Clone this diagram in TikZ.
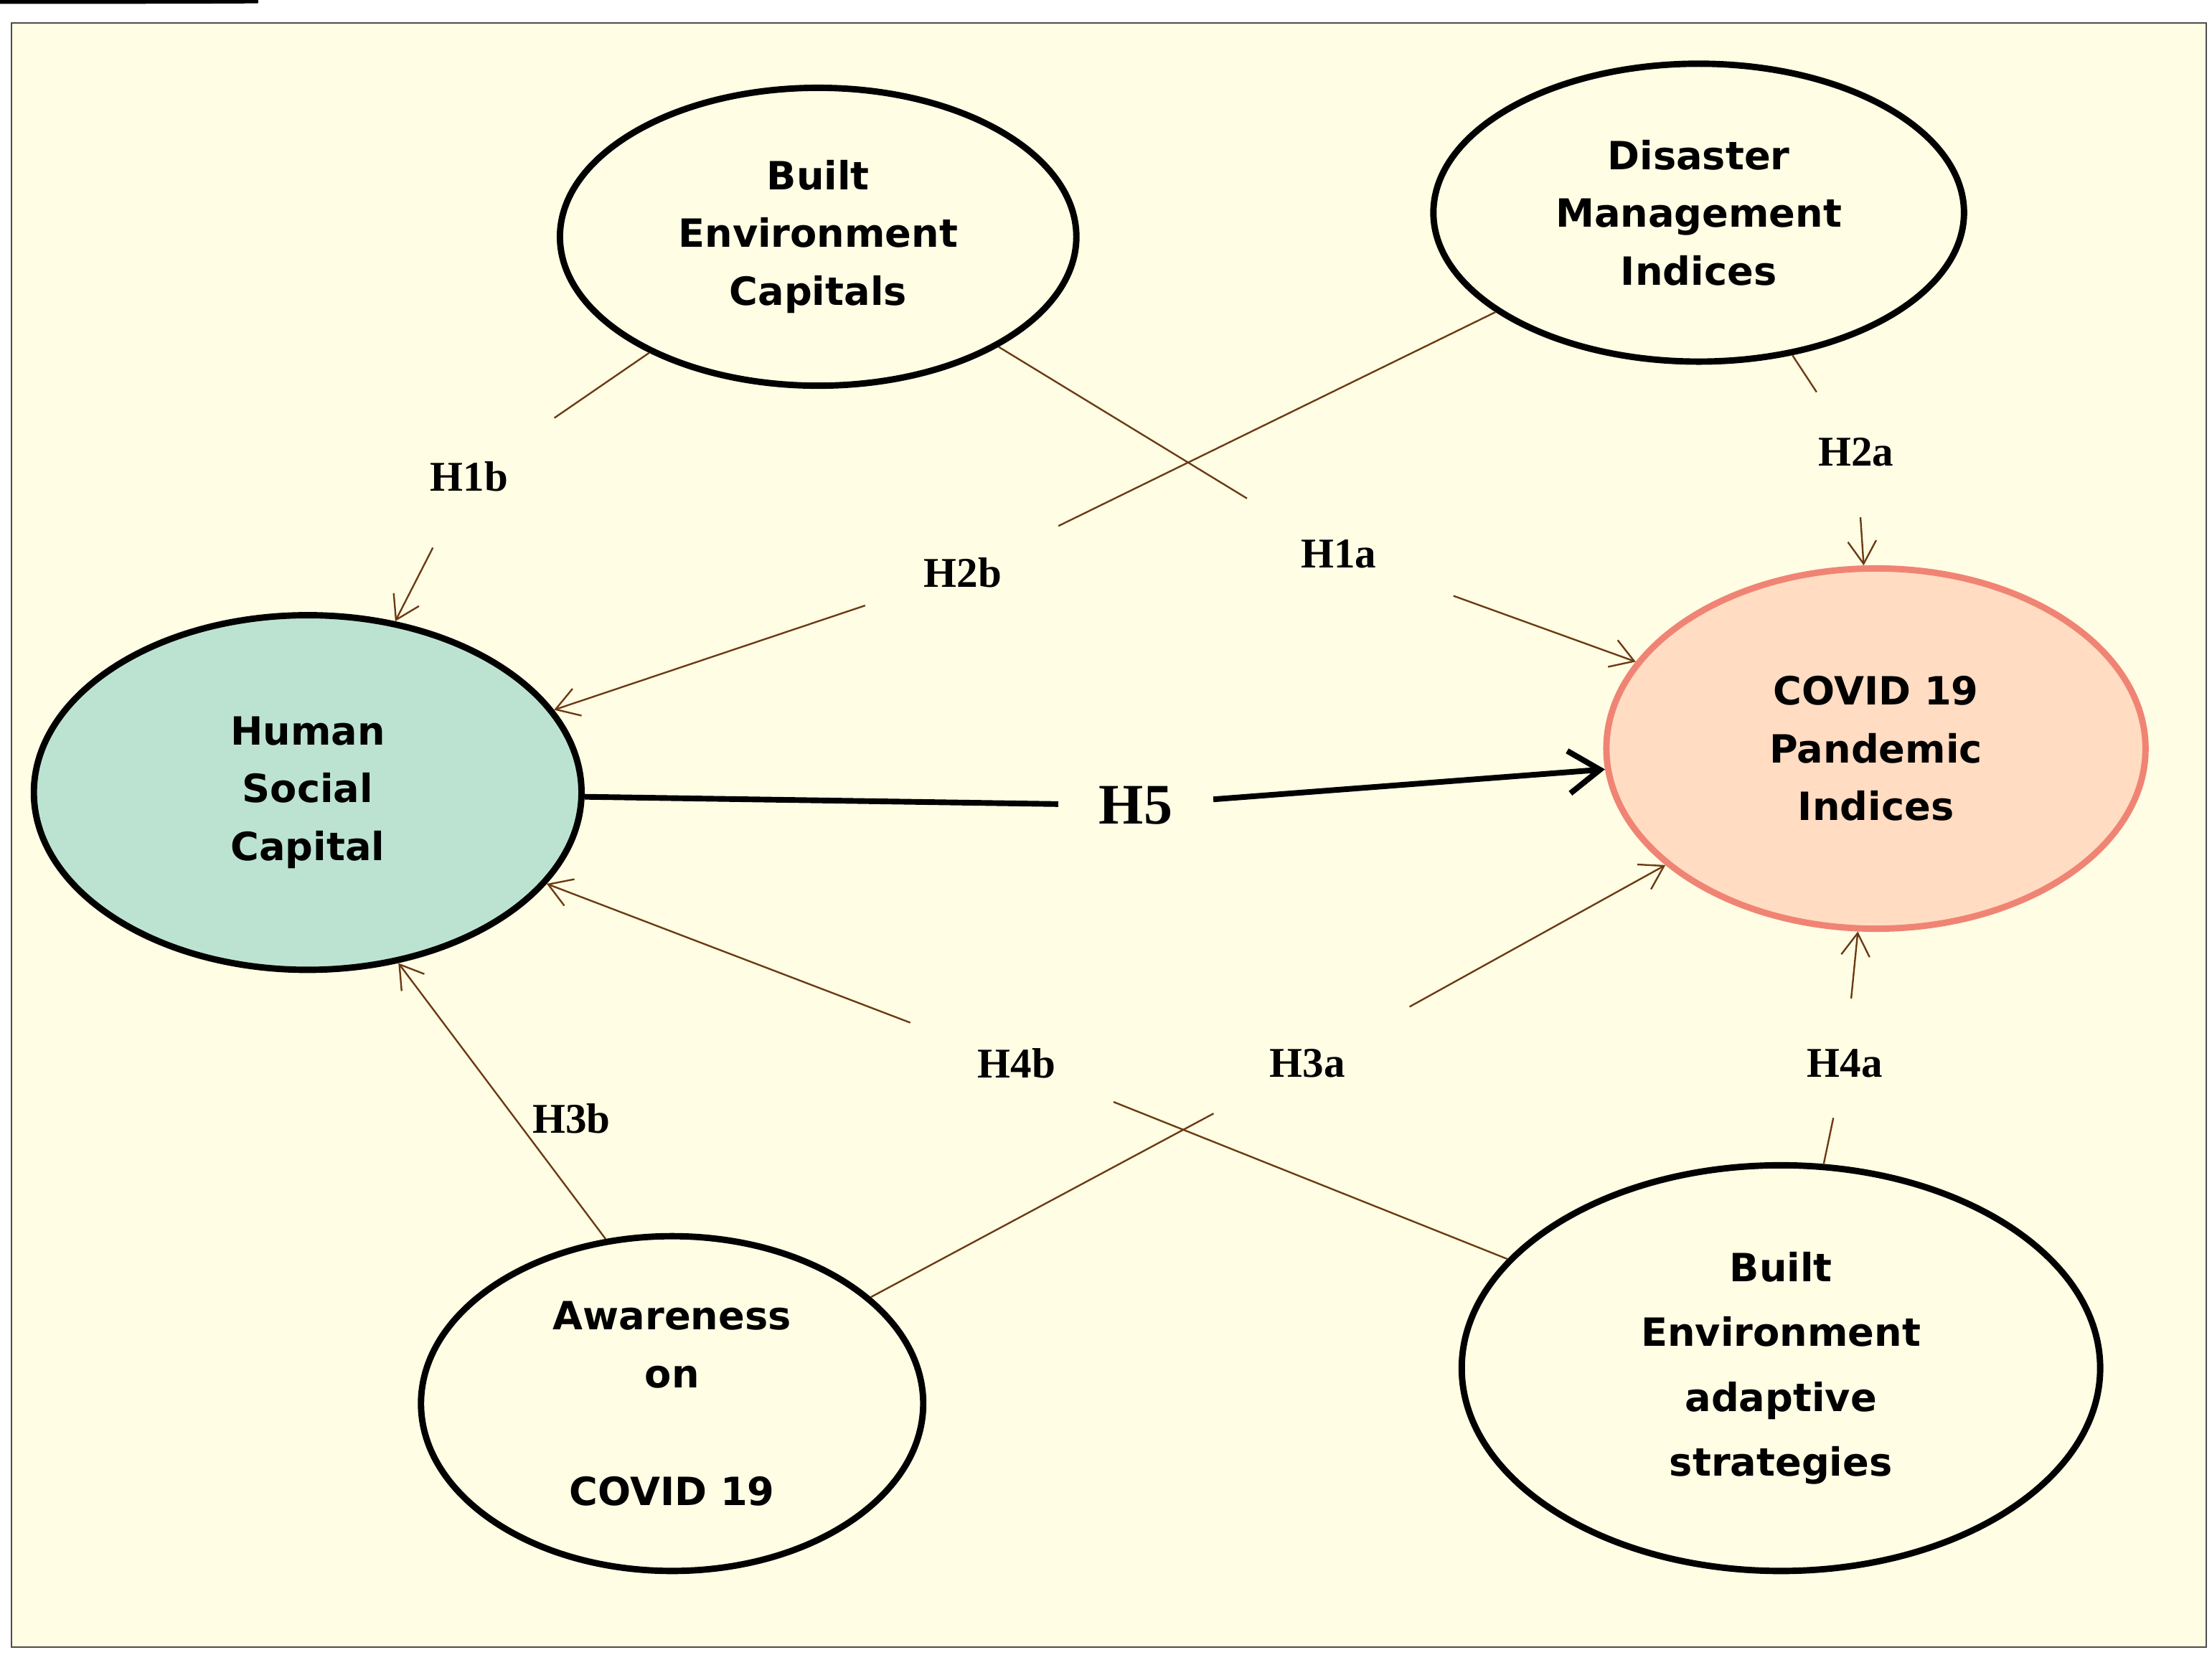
\documentclass[tikz,border=0pt]{standalone}
\usepackage{fontspec}
\setmainfont{Liberation Serif}
\newfontfamily\boxfont{DejaVu Sans}
\usetikzlibrary{shapes.geometric,arrows.meta}
\definecolor{bgy}{HTML}{FFFDE4}
\definecolor{arr}{HTML}{6B3A14}
\definecolor{teal}{HTML}{BCE3D2}
\definecolor{peach}{HTML}{FFDCC2}
\definecolor{salmon}{HTML}{F08474}
\begin{document}
\begin{tikzpicture}[x=0.01cm,y=-0.01cm,
  ell/.style={ellipse,draw=black,line width=0.045cm,fill=bgy,align=center,
    font=\boxfont\bfseries\fontsize{7.8}{11.6}\selectfont,inner sep=0pt},
  lbl/.style={font=\bfseries\fontsize{8.5}{10}\selectfont,inner sep=4pt},
  con/.style={draw=arr,line width=0.012cm},
  tip/.style={-{Straight Barb[length=0.16cm,width=0.2cm]}}]
\useasboundingbox (0,0) rectangle (1560,1167);
\fill[white] (0,0) rectangle (1560,1167);
\draw[fill=bgy,draw=black!70,line width=0.01cm] (8,16) rectangle (1556,1162);
\node[ell,minimum width=364\pgflinewidth/\pgflinewidth*0.01cm,minimum height=0.01cm] at (0,0) {};
\node[ell,minimum width=3.64cm,minimum height=2.1cm] (bec) at (577,167) {Built\\Environment\\Capitals};
\node[ell,minimum width=3.74cm,minimum height=2.1cm] (dmi) at (1198,150) {Disaster\\Management\\Indices};
\node[ell,fill=teal,minimum width=3.86cm,minimum height=2.5cm] (hsc) at (217,559) {Human\\Social\\Capital};
\node[ell,fill=peach,draw=salmon,minimum width=3.8cm,minimum height=2.54cm] (cov) at (1323,528) {COVID 19\\Pandemic\\Indices};
\node[ell,minimum width=3.54cm,minimum height=2.36cm] (awa) at (474,990) {Awareness\\on\\[12pt]COVID 19};
\node[ell,minimum width=4.5cm,minimum height=2.86cm,font=\boxfont\bfseries\fontsize{7.8}{13}\selectfont] (bea) at (1256,965) {Built\\Environment\\adaptive\\strategies};

\node[lbl] (h1b) at (331,336) {H1b};
\node[lbl] (h1a) at (944,391) {H1a};
\node[lbl] (h2b) at (679,404) {H2b};
\node[lbl] (h2a) at (1309,319) {H2a};
\node[lbl,font=\bfseries\fontsize{11.5}{12}\selectfont,inner sep=8pt] (h5) at (801,568) {H5};
\node[lbl] (h4b) at (717,750) {H4b};
\node[lbl] (h3a) at (922,750) {H3a};
\node[lbl] (h4a) at (1301,750) {H4a};
\node[lbl] (h3b) at (403,789) {H3b};

\draw[con,shorten >=8pt] (bec) -- (h1b);
\draw[con,tip,shorten <=8pt] (h1b) -- (hsc);
\draw[con,shorten >=8pt] (bec) -- (h1a);
\draw[con,tip,shorten <=12pt] (h1a) -- (cov);
\draw[con,shorten >=8pt] (dmi) -- (h2b);
\draw[con,tip,shorten <=8pt] (h2b) -- (hsc);
\draw[con,shorten >=6pt] (dmi) -- (h2a);
\draw[con,tip,shorten <=6pt] (h2a) -- (cov);
\draw[line width=0.04cm] (hsc) -- (h5);
\draw[line width=0.04cm,-{Straight Barb[length=0.22cm,width=0.3cm]}] (h5) -- (cov);
\draw[con,shorten >=8pt] (bea) -- (h4b);
\draw[con,tip,shorten <=10pt] (h4b) -- (hsc);
\draw[con,shorten >=8pt] (awa) -- (h3a);
\draw[con,tip,shorten <=10pt] (h3a) -- (cov);
\draw[con,shorten >=4pt] (bea) -- (h4a);
\draw[con,tip,shorten <=6pt] (h4a) -- (cov);
\draw[con,tip] (awa.112) -- (hsc.-62);
\end{tikzpicture}
\end{document}
